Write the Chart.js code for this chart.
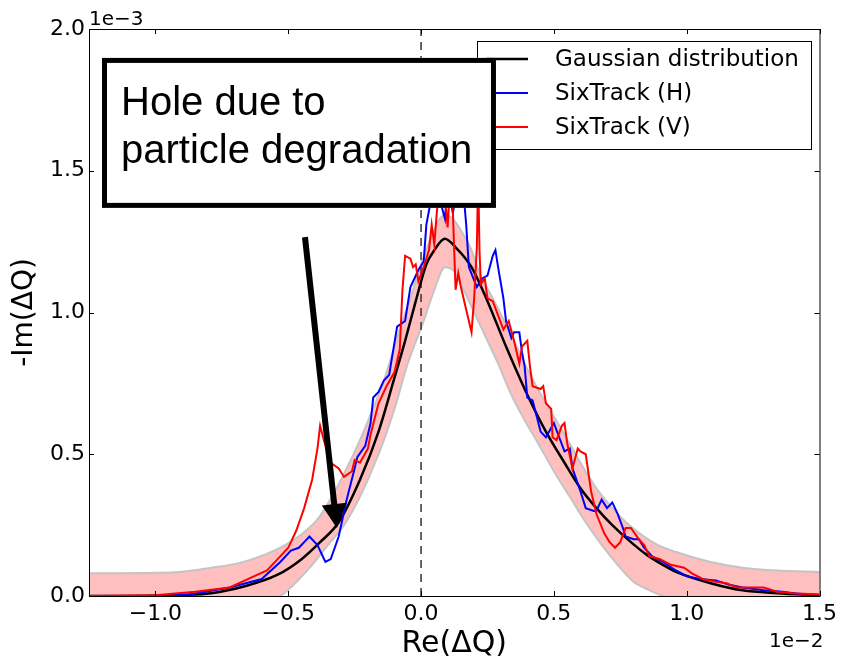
<!DOCTYPE html>
<html>
<head>
<meta charset="utf-8">
<script src="https://cdn.jsdelivr.net/npm/chart.js@4.4.1/dist/chart.umd.min.js"></script>
<style>
  html, body { margin: 0; padding: 0; background: #fff; }
  #wrap { width: 842px; height: 662px; position: relative; }
</style>
</head>
<body>
<div id="wrap"><canvas id="myChart"></canvas></div>
<script>
// x values in units of 1e-2, y values in units of 1e-3
const xTicks = [-1.0, -0.5, 0.0, 0.5, 1.0, 1.5];
const yTicks = [0.0, 0.5, 1.0, 1.5, 2.0];

const gaussian = [
  [-1.25, 0.0], [-1.0, 0.002], [-0.79, 0.01], [-0.66, 0.035], [-0.54, 0.075], [-0.45, 0.13],
  [-0.38, 0.19], [-0.31, 0.26], [-0.23, 0.41], [-0.16, 0.58], [-0.10, 0.77], [-0.06, 0.90],
  [-0.02, 1.04], [0.02, 1.17], [0.05, 1.22], [0.09, 1.26], [0.13, 1.23], [0.19, 1.16],
  [0.25, 1.04], [0.32, 0.88], [0.40, 0.71], [0.47, 0.58], [0.54, 0.47], [0.60, 0.38],
  [0.66, 0.31], [0.72, 0.25], [0.79, 0.19], [0.85, 0.145], [0.91, 0.11], [0.96, 0.085],
  [1.09, 0.045], [1.21, 0.02], [1.34, 0.01], [1.5, 0.003]
];

// edges of the shaded uncertainty band
const bandUpper = [
  [-1.25, 0.08], [-1.0, 0.082], [-0.91, 0.085], [-0.79, 0.10], [-0.69, 0.115], [-0.59, 0.145],
  [-0.51, 0.18], [-0.44, 0.225], [-0.39, 0.27], [-0.33, 0.36], [-0.28, 0.45], [-0.23, 0.55],
  [-0.19, 0.64], [-0.14, 0.76], [-0.08, 0.94], [-0.04, 1.05], [0.0, 1.17], [0.04, 1.27],
  [0.07, 1.33], [0.09, 1.345], [0.12, 1.33], [0.15, 1.29], [0.19, 1.22], [0.22, 1.14],
  [0.27, 1.05], [0.34, 0.92], [0.40, 0.80], [0.47, 0.68], [0.54, 0.57], [0.60, 0.47],
  [0.66, 0.38], [0.72, 0.31], [0.79, 0.245], [0.89, 0.18], [0.96, 0.155], [1.09, 0.12],
  [1.21, 0.10], [1.34, 0.09], [1.5, 0.085]
];
const bandLower = [
  [-1.25, -0.06], [-0.60, -0.02], [-0.53, 0.0], [-0.48, 0.04], [-0.41, 0.11], [-0.35, 0.18],
  [-0.29, 0.25], [-0.23, 0.35], [-0.16, 0.50], [-0.10, 0.66], [-0.05, 0.82], [0.01, 0.97],
  [0.05, 1.08], [0.09, 1.16], [0.12, 1.15], [0.16, 1.08], [0.20, 1.00], [0.24, 0.92],
  [0.29, 0.82], [0.34, 0.71], [0.39, 0.62], [0.44, 0.54], [0.50, 0.44], [0.56, 0.35],
  [0.62, 0.26], [0.68, 0.18], [0.74, 0.11], [0.80, 0.05], [0.86, 0.02], [0.91, 0.0],
  [1.0, -0.03], [1.5, -0.06]
];

const sixTrackH = [
  [-1.0, 0.0], [-0.87, 0.005], [-0.72, 0.03], [-0.60, 0.06], [-0.53, 0.12], [-0.49, 0.16],
  [-0.46, 0.17], [-0.44, 0.19], [-0.42, 0.21], [-0.39, 0.18], [-0.36, 0.12], [-0.34, 0.13],
  [-0.31, 0.21], [-0.28, 0.34], [-0.25, 0.45], [-0.24, 0.49], [-0.21, 0.53], [-0.19, 0.61],
  [-0.18, 0.70], [-0.16, 0.72], [-0.14, 0.76], [-0.12, 0.78], [-0.09, 0.95], [-0.06, 0.97],
  [-0.04, 1.09], [-0.01, 1.15], [0.01, 1.18], [0.02, 1.31], [0.03, 1.36], [0.05, 1.45],
  [0.07, 1.40], [0.09, 1.33], [0.10, 1.45], [0.12, 1.35], [0.14, 1.48], [0.16, 1.42],
  [0.17, 1.31], [0.18, 1.16], [0.21, 1.09], [0.23, 1.12], [0.25, 1.13], [0.27, 1.20],
  [0.28, 1.22], [0.29, 1.16], [0.31, 1.05], [0.32, 0.97], [0.34, 0.91], [0.35, 0.93],
  [0.37, 0.93], [0.38, 0.86], [0.39, 0.81], [0.40, 0.70], [0.42, 0.69], [0.45, 0.58],
  [0.47, 0.56], [0.50, 0.61], [0.52, 0.56], [0.54, 0.51], [0.56, 0.52], [0.57, 0.45],
  [0.60, 0.37], [0.62, 0.31], [0.65, 0.30], [0.66, 0.30], [0.68, 0.34], [0.70, 0.31],
  [0.72, 0.33], [0.74, 0.29], [0.76, 0.24], [0.77, 0.21], [0.80, 0.20], [0.82, 0.20],
  [0.84, 0.17], [0.87, 0.14], [0.91, 0.12], [0.96, 0.09], [1.00, 0.07], [1.05, 0.06],
  [1.11, 0.055], [1.16, 0.04], [1.21, 0.03], [1.29, 0.02], [1.36, 0.015], [1.44, 0.005]
];

const sixTrackV = [
  [-1.25, 0.0], [-1.0, 0.003], [-0.85, 0.015], [-0.72, 0.03], [-0.64, 0.065], [-0.58, 0.09],
  [-0.53, 0.14], [-0.50, 0.17], [-0.47, 0.23], [-0.44, 0.31], [-0.41, 0.41], [-0.39, 0.52],
  [-0.38, 0.60], [-0.36, 0.53], [-0.34, 0.47], [-0.31, 0.45], [-0.29, 0.42], [-0.26, 0.44],
  [-0.25, 0.48], [-0.23, 0.47], [-0.20, 0.52], [-0.19, 0.57], [-0.16, 0.68], [-0.13, 0.74],
  [-0.10, 0.79], [-0.08, 0.87], [-0.07, 1.08], [-0.06, 1.20], [-0.04, 1.19], [-0.03, 1.16],
  [-0.02, 1.17], [-0.01, 1.11], [0.01, 1.16], [0.03, 1.22], [0.04, 1.31], [0.05, 1.24],
  [0.06, 1.36], [0.08, 1.52], [0.10, 1.30], [0.11, 1.46], [0.12, 1.35], [0.13, 1.08],
  [0.14, 1.14], [0.15, 1.09], [0.17, 1.01], [0.19, 0.93], [0.20, 1.05], [0.21, 1.23],
  [0.215, 1.48], [0.22, 1.22], [0.225, 1.10], [0.24, 1.12], [0.25, 1.05], [0.27, 1.04],
  [0.29, 0.99], [0.31, 0.94], [0.33, 0.97], [0.35, 0.90], [0.37, 0.82], [0.38, 0.88],
  [0.40, 0.90], [0.41, 0.81], [0.42, 0.74], [0.45, 0.73], [0.46, 0.74], [0.47, 0.68],
  [0.49, 0.66], [0.495, 0.56], [0.51, 0.55], [0.53, 0.60], [0.54, 0.61], [0.55, 0.54],
  [0.57, 0.45], [0.59, 0.52], [0.60, 0.51], [0.62, 0.50], [0.64, 0.37], [0.66, 0.29],
  [0.69, 0.22], [0.71, 0.19], [0.73, 0.17], [0.75, 0.19], [0.77, 0.24], [0.79, 0.24],
  [0.82, 0.20], [0.84, 0.18], [0.86, 0.14], [0.90, 0.13], [0.94, 0.11], [0.99, 0.10],
  [1.02, 0.08], [1.06, 0.06], [1.11, 0.05], [1.15, 0.045], [1.19, 0.03], [1.24, 0.03],
  [1.29, 0.03], [1.34, 0.015], [1.40, 0.01], [1.50, 0.005]
];

const zeroLine = [[0, 0], [0, 2.0]];

// annotation anchors, in data units
const noteBox = { x0: -1.201, x1: 0.282, y0: 1.898, y1: 1.369 };
const noteLines = ['Hole due to', 'particle degradation'];
const arrowFrom = { x: -0.437, y: 1.266 };
const arrowTo = { x: -0.317, y: 0.240 };

const toXY = arr => arr.map(([x, y]) => ({ x, y }));
const fmt = v => (v < 0 ? '\u2212' : '') + Math.abs(v).toFixed(1);

const frameAndNotes = {
  id: 'frameAndNotes',
  afterDatasetsDraw(chart) {
    const { ctx, chartArea: a, scales: { x, y } } = chart;
    ctx.save();
    ctx.strokeStyle = '#000';
    ctx.lineWidth = 1;
    ctx.strokeRect(a.left + 0.5, a.top + 0.5, a.right - a.left, a.bottom - a.top);
    // matplotlib style inward ticks on all four sides
    ctx.beginPath();
    xTicks.forEach(v => {
      const px = Math.round(x.getPixelForValue(v)) + 0.5;
      ctx.moveTo(px, a.bottom); ctx.lineTo(px, a.bottom - 5);
      ctx.moveTo(px, a.top); ctx.lineTo(px, a.top + 5);
    });
    yTicks.forEach(v => {
      const py = Math.round(y.getPixelForValue(v)) + 0.5;
      ctx.moveTo(a.left, py); ctx.lineTo(a.left + 5, py);
      ctx.moveTo(a.right, py); ctx.lineTo(a.right - 5, py);
    });
    ctx.stroke();
    ctx.restore();
  },
  afterDraw(chart) {
    const { ctx, chartArea: a, scales: { x, y } } = chart;
    ctx.save();

    // offset labels
    ctx.fillStyle = '#000';
    ctx.font = '20px "DejaVu Sans"';
    ctx.textBaseline = 'alphabetic';
    ctx.textAlign = 'left';
    ctx.fillText('1e\u22123', a.left, 25);
    ctx.textAlign = 'right';
    ctx.fillText('1e\u22122', a.right + 4, 647);

    // legend
    const items = ['Gaussian distribution', 'SixTrack (H)', 'SixTrack (V)']
      .map(l => chart.data.datasets.find(d => d.label === l));
    ctx.fillStyle = '#fff';
    ctx.fillRect(477.5, 41.5, 334, 108);
    ctx.strokeStyle = '#000';
    ctx.lineWidth = 1;
    ctx.strokeRect(477.5, 41.5, 334, 108);
    ctx.font = '23px "DejaVu Sans"';
    ctx.textAlign = 'left';
    ctx.textBaseline = 'middle';
    items.forEach((d, i) => {
      const ly = 59 + i * 34;
      ctx.strokeStyle = d.borderColor;
      ctx.lineWidth = d.borderWidth;
      ctx.beginPath();
      ctx.moveTo(486, ly); ctx.lineTo(528, ly);
      ctx.stroke();
      ctx.fillStyle = '#000';
      ctx.fillText(d.label, 555, ly + 1);
    });

    // annotation box
    const bx0 = x.getPixelForValue(noteBox.x0), bx1 = x.getPixelForValue(noteBox.x1);
    const by0 = y.getPixelForValue(noteBox.y0), by1 = y.getPixelForValue(noteBox.y1);
    ctx.fillStyle = '#fff';
    ctx.fillRect(bx0, by0, bx1 - bx0, by1 - by0);
    ctx.strokeStyle = '#000';
    ctx.lineWidth = 5;
    ctx.strokeRect(bx0 + 2.5, by0 + 2.5, bx1 - bx0 - 5, by1 - by0 - 5);
    ctx.fillStyle = '#000';
    ctx.font = '40px "Liberation Sans", Arial, sans-serif';
    ctx.textAlign = 'left';
    ctx.textBaseline = 'alphabetic';
    noteLines.forEach((t, i) => ctx.fillText(t, bx0 + 19, by0 + 57 + i * 48));

    // arrow
    const ax0 = x.getPixelForValue(arrowFrom.x), ay0 = y.getPixelForValue(arrowFrom.y);
    const ax1 = x.getPixelForValue(arrowTo.x), ay1 = y.getPixelForValue(arrowTo.y);
    const len = Math.hypot(ax1 - ax0, ay1 - ay0);
    const ux = (ax1 - ax0) / len, uy = (ay1 - ay0) / len;
    const headL = 24, headW = 12.5;
    const bx = ax1 - ux * headL, byy = ay1 - uy * headL;
    ctx.strokeStyle = '#000';
    ctx.lineWidth = 6;
    ctx.lineCap = 'butt';
    ctx.beginPath();
    ctx.moveTo(ax0, ay0); ctx.lineTo(bx + ux * 2, byy + uy * 2);
    ctx.stroke();
    ctx.beginPath();
    ctx.moveTo(ax1, ay1);
    ctx.lineTo(bx - uy * headW, byy + ux * headW);
    ctx.lineTo(bx + uy * headW, byy - ux * headW);
    ctx.closePath();
    ctx.fill();
    ctx.restore();
  }
};

const ctx = document.getElementById('myChart').getContext('2d');
const myChart = new Chart(ctx, {
  type: 'scatter',
  data: {
    datasets: [
      { label: 'SixTrack (V)', data: toXY(sixTrackV), showLine: true, borderColor: '#ff0000',
        borderWidth: 2, pointRadius: 0, tension: 0, order: 1, clip: 0 },
      { label: 'SixTrack (H)', data: toXY(sixTrackH), showLine: true, borderColor: '#0000ff',
        borderWidth: 2, pointRadius: 0, tension: 0, order: 2, clip: 0 },
      { label: 'Gaussian distribution', data: toXY(gaussian), showLine: true, borderColor: '#000000',
        borderWidth: 2.5, pointRadius: 0, cubicInterpolationMode: 'monotone', order: 3, clip: 0 },
      { label: 'zero', data: toXY(zeroLine), showLine: true, borderColor: '#333333',
        borderWidth: 1.5, borderDash: [8, 6], pointRadius: 0, order: 4, clip: 0 },
      { label: 'band upper', data: toXY(bandUpper), showLine: true, borderColor: '#c4c4c4',
        borderWidth: 2, backgroundColor: 'rgb(255,191,191)', fill: '+1', pointRadius: 0,
        cubicInterpolationMode: 'monotone', order: 6, clip: 0 },
      { label: 'band lower', data: toXY(bandLower), showLine: true, borderColor: '#c4c4c4',
        borderWidth: 2, pointRadius: 0, cubicInterpolationMode: 'monotone', order: 5, clip: 0 }
    ]
  },
  options: {
    responsive: true,
    maintainAspectRatio: false,
    animation: false,
    layout: { padding: { top: 29, right: 19, left: 0, bottom: 0 } },
    plugins: { legend: { display: false }, tooltip: { enabled: false } },
    scales: {
      x: {
        type: 'linear',
        min: -1.25,
        max: 1.5,
        afterBuildTicks: s => { s.ticks = xTicks.map(v => ({ value: v })); },
        afterFit: s => { s.height = 66; },
        grid: { display: false, drawTicks: false },
        border: { display: false },
        ticks: { callback: fmt, autoSkip: false, maxRotation: 0, padding: 5, color: '#000',
                 font: { family: 'DejaVu Sans', size: 22 } },
        title: { display: true, text: 'Re(\u0394Q)', color: '#000', padding: { top: 0, bottom: 0 },
                 font: { family: 'DejaVu Sans', size: 30 } }
      },
      y: {
        type: 'linear',
        min: 0,
        max: 2.0,
        afterBuildTicks: s => { s.ticks = yTicks.map(v => ({ value: v })); },
        afterFit: s => { s.width = 89; },
        grid: { display: false, drawTicks: false },
        border: { display: false },
        ticks: { callback: fmt, autoSkip: false, padding: 4, color: '#000',
                 font: { family: 'DejaVu Sans', size: 22 } },
        title: { display: true, text: '-Im(\u0394Q)', color: '#000', padding: { top: 8, bottom: 0 },
                 font: { family: 'DejaVu Sans', size: 28 } }
      }
    }
  },
  plugins: [frameAndNotes]
});
</script>
</body>
</html>
